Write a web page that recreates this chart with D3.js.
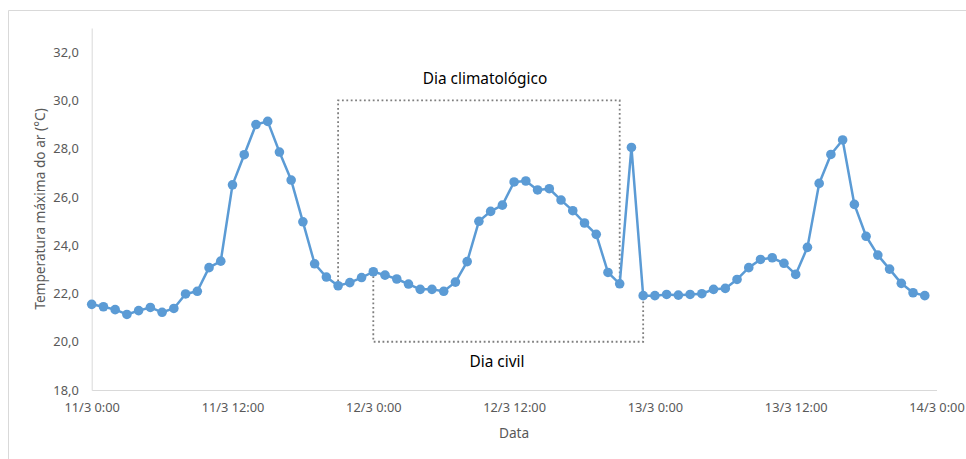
<!DOCTYPE html>
<html>
<head>
<meta charset="utf-8">
<script src="https://cdn.jsdelivr.net/npm/d3@7"></script>
<style>
  body { margin: 0; background: #fff; }
  svg text { font-family: "Noto Sans", sans-serif; }
</style>
</head>
<body>
<div id="chart"></div>
<script>
// hourly max air temperature, 11/3 0:00 .. 13/3 23:00
let day11 = [21.55, 21.45, 21.33, 21.13, 21.29, 21.42, 21.22, 21.38, 21.98, 22.09, 23.07, 23.34,
             26.5, 27.75, 29.0, 29.13, 27.86, 26.7, 24.97, 23.23, 22.68, 22.32, 22.45, 22.66];
let day12 = [22.9, 22.76, 22.6, 22.39, 22.17, 22.17, 22.09, 22.47, 23.32, 24.99, 25.4, 25.66,
             26.62, 26.66, 26.29, 26.34, 25.87, 25.43, 24.92, 24.45, 22.87, 22.4, 28.05, 21.91];
let day13 = [21.91, 21.96, 21.93, 21.96, 21.99, 22.17, 22.21, 22.58, 23.07, 23.41, 23.48, 23.25,
             22.79, 23.91, 26.56, 27.76, 28.36, 25.69, 24.37, 23.59, 23.01, 22.42, 22.03, 21.91];
let temps = day11.concat(day12, day13);

let yTicks = [18, 20, 22, 24, 26, 28, 30, 32];

// hour index of box edges and the temperature of the horizontal edge
let climBox = {from: 21, to: 45, level: 30, label: "Dia climatológico"};
let civilBox = {from: 24, to: 47, level: 20, label: "Dia civil"};

let start = new Date(2019, 2, 11, 0, 0);
let end = new Date(2019, 2, 14, 0, 0);
let hourDate = h => new Date(start.getTime() + h * 3600 * 1000);
let data = temps.map((t, i) => ({date: hourDate(i), value: t}));

let width = 966, height = 459;
let margin = {top: 28, left: 91.7, right: 29.5, bottom: 69};

let svg = d3.select("#chart").append("svg")
    .attr("width", width)
    .attr("height", height);

// outer chart border (only top and left visible)
svg.append("path")
    .attr("d", "M8.5," + height + "V10.5H" + width)
    .attr("fill", "none")
    .attr("stroke", "#d9d9d9")
    .attr("stroke-width", 1);

let x = d3.scaleTime()
    .domain([start, end])
    .range([margin.left, width - margin.right]);

let y = d3.scaleLinear()
    .domain([18, 33])
    .range([height - margin.bottom, margin.top]);

let fmtX = d => d.getDate() + "/" + (d.getMonth() + 1) + " " + d.getHours() + ":00";
let fmtY = d => d.toFixed(1).replace(".", ",");

let xAxis = svg.append("g")
    .attr("transform", "translate(0," + y(18) + ")")
    .call(d3.axisBottom(x).ticks(d3.timeHour.every(12)).tickFormat(fmtX).tickSize(0).tickPadding(13));
xAxis.select(".domain").attr("stroke", "#d9d9d9");
xAxis.selectAll("text").attr("fill", "#595959").style("font-size", "12.8px");

let yAxis = svg.append("g")
    .attr("transform", "translate(" + margin.left + ",0)")
    .call(d3.axisLeft(y).tickValues(yTicks).tickFormat(fmtY).tickSize(0).tickPadding(13));
yAxis.select(".domain").attr("stroke", "#d9d9d9");
yAxis.selectAll("text").attr("fill", "#595959").style("font-size", "12.8px");

svg.append("text")
    .attr("transform", "translate(45," + ((y(18) + margin.top) / 2) + ") rotate(-90)")
    .attr("text-anchor", "middle")
    .attr("fill", "#595959")
    .style("font-size", "13.7px")
    .text("Temperatura máxima do ar (°C)");

svg.append("text")
    .attr("x", (x.range()[0] + x.range()[1]) / 2)
    .attr("y", 438)
    .attr("text-anchor", "middle")
    .attr("fill", "#595959")
    .style("font-size", "13.7px")
    .text("Data");

// dotted boxes marking the climatological and civil days
function boxPath(b) {
    let x0 = x(hourDate(b.from)), x1 = x(hourDate(b.to));
    return "M" + x0 + "," + y(temps[b.from]) +
        "V" + y(b.level) + "H" + x1 + "V" + y(temps[b.to]);
}

[climBox, civilBox].forEach(b => {
    svg.append("path")
        .attr("d", boxPath(b))
        .attr("fill", "none")
        .attr("stroke", "#7f7f7f")
        .attr("stroke-width", 1.8)
        .attr("stroke-dasharray", "1.8,2.6");
});

svg.append("text")
    .attr("x", 485)
    .attr("y", 84)
    .attr("text-anchor", "middle")
    .attr("fill", "#000")
    .style("font-size", "15.4px")
    .text(climBox.label);

svg.append("text")
    .attr("x", 497)
    .attr("y", 367)
    .attr("text-anchor", "middle")
    .attr("fill", "#000")
    .style("font-size", "15.4px")
    .text(civilBox.label);

let line = d3.line()
    .x(d => x(d.date))
    .y(d => y(d.value));

svg.append("path")
    .datum(data)
    .attr("d", line)
    .attr("fill", "none")
    .attr("stroke", "#5b9bd5")
    .attr("stroke-width", 2.5)
    .attr("stroke-linejoin", "round");

svg.selectAll("circle.pt").data(data)
    .enter().append("circle")
    .attr("class", "pt")
    .attr("cx", d => x(d.date))
    .attr("cy", d => y(d.value))
    .attr("r", 4.8)
    .attr("fill", "#5b9bd5");
</script>
</body>
</html>
